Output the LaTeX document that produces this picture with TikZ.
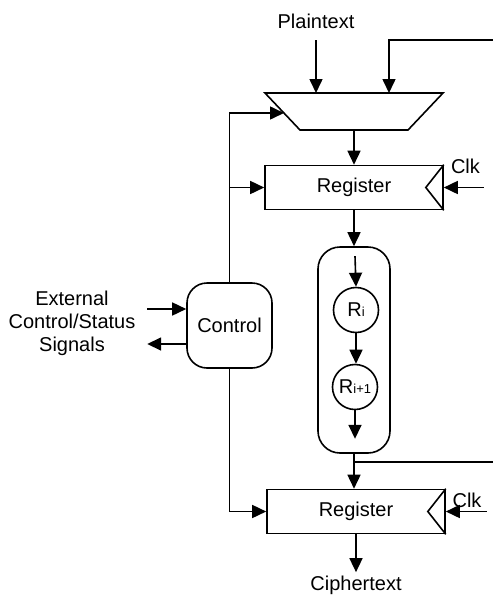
\documentclass[tikz,border=0pt]{standalone}
\usepackage{fontspec}
\setmainfont{Liberation Sans}
\usetikzlibrary{arrows.meta,calc}

\newcommand{\idx}[1]{{\fontsize{13}{13}\selectfont #1}}

\begin{document}
\begin{tikzpicture}[x=1pt, y=-1pt,
  every node/.style={font=\fontsize{20}{23}\selectfont},
  reg/.style={draw, line width=1.6pt, minimum width=178pt, minimum height=44pt, inner sep=0pt},
  ctrl/.style={draw, line width=1.6pt, rounded corners=20pt, minimum width=85pt, minimum height=85pt},
  pipe/.style={draw, line width=1.6pt, rounded corners=22pt, minimum width=72pt, minimum height=206pt},
  rnd/.style={draw, circle, line width=1.6pt, minimum size=45pt, inner sep=0pt},
  wire/.style={line width=1.6pt},
  arrow/.style={-{Triangle[length=14pt,width=13pt]}, line width=1.6pt}
]
\useasboundingbox (0,0) rectangle (493,595);

% multiplexer
\draw[wire] (265,93) -- (443,93) -- (408,130) -- (300,130) -- cycle;
\coordinate (muxa) at (316,93);
\coordinate (muxb) at (389,93);
\coordinate (muxsel) at (284,113);
\coordinate (muxout) at (354,130);
\coordinate (fbin) at (493,40);
\coordinate (fbout) at (493,462);

\node (plain) at (316,21) {Plaintext};
\node[reg] (reg1) at (354,187.5) {Register};
\node[reg] (reg2) at (356,511.5) {Register};
\node[ctrl] (ctrl) at (229.5,325.5) {Control};
\node[pipe] (pipe) at (354,350) {};
\node[rnd] (ri) at (356,310) {R\idx{i}};
\node[rnd] (ri1) at (355,387) {R\idx{i+1}};
\node[align=center] (ext) at (72,323) {External\\Control/Status\\Signals};
\node (clk1) at (465.5,166.5) {Clk};
\node (clk2) at (467,500) {Clk};
\node (ciph) at (356,585) {Ciphertext};

% clock inputs
\draw[wire] (reg1.north east) -- ($(reg1.east)+(-18,0)$) -- (reg1.south east);
\draw[wire] (reg2.north east) -- ($(reg2.east)+(-18,0)$) -- (reg2.south east);
\draw[arrow] ($(reg1.east)+(40,0)$) -- (reg1.east);
\draw[arrow] ($(reg2.east)+(41,0)$) -- (reg2.east);

\draw[arrow, shorten <=8.5pt] (plain.south) -- (muxa);
\draw[arrow] (fbin) -| (muxb);
\draw[arrow] (muxout) -- (reg1.north);
\draw[arrow] (reg1.south) -- (pipe.north);
\draw[arrow] ($(pipe.north)+(1,10)$) -- (ri.north);
\draw[arrow] (ri.south) -- (ri.south |- ri1.north);
\draw[arrow] (ri1.south) -- ($(pipe.south)+(1,-15)$);
\draw[arrow] (pipe.south) -- (pipe.south |- reg2.north);
\draw[wire] (pipe.south |- fbout) -- (fbout);
\draw[arrow] (reg2.south) -- (ciph.north);

\draw[arrow] (ctrl.north) |- (muxsel);
\draw[arrow] (ctrl.north |- reg1.west) -- (reg1.west);
\draw[arrow] (ctrl.south) |- (reg2.west);
\draw[arrow] ($(ctrl.west)+(-39,-16.5)$) -- ($(ctrl.west)+(0,-16.5)$);
\draw[arrow] ($(ctrl.west)+(0,18.5)$) -- ($(ctrl.west)+(-39,18.5)$);
\end{tikzpicture}
\end{document}
